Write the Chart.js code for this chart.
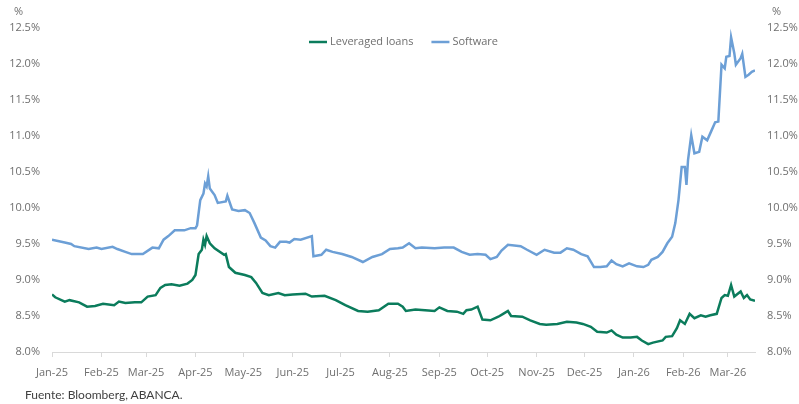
<!DOCTYPE html>
<html>
<head>
<meta charset="utf-8">
<script src="https://cdn.jsdelivr.net/npm/chart.js@4/dist/chart.umd.min.js"></script>
<style>
  body { margin: 0; background: #fff; }
  #wrap { position: relative; width: 799px; height: 404px; }
  #source {
    position: absolute; left: 25px; top: 387px;
    font: 12px "Lato", "Open Sans", sans-serif; color: #404040;
  }
</style>
</head>
<body>
<div id="wrap">
  <canvas id="chart" width="799" height="404"></canvas>
  <div id="source">Fuente: Bloomberg, ABANCA.</div>
</div>
<script>
// days counted from 1 Jan 2025
const monthDays = [0, 31, 59, 90, 120, 151, 181, 212, 243, 273, 304, 334, 365, 396, 424];
const monthLabels = ["Jan-25", "Feb-25", "Mar-25", "Apr-25", "May-25", "Jun-25", "Jul-25", "Aug-25",
  "Sep-25", "Oct-25", "Nov-25", "Dec-25", "Jan-26", "Feb-26", "Mar-26"];
const yTicks = [8.0, 8.5, 9.0, 9.5, 10.0, 10.5, 11.0, 11.5, 12.0, 12.5];

const loanDays = [0, 2, 8, 11, 17, 22, 27, 32, 39, 42, 46, 52, 56, 60, 65, 68, 71, 75, 80, 85, 88, 90, 92, 94,
  95, 96, 97, 99, 102, 108, 109, 111, 115, 121, 125, 128, 132, 136, 142, 146, 151, 159, 163, 171, 178, 184,
  192, 198, 205, 211, 217, 220, 222, 228, 234, 240, 243, 248, 254, 258, 260, 263, 267, 270, 275, 280, 283,
  286, 288, 295, 300, 306, 310, 317, 323, 329, 333, 338, 342, 348, 351, 354, 358, 363, 367, 370, 374, 377,
  383, 385, 389, 392, 394, 397, 400, 403, 407, 410, 413, 417, 420, 422, 424, 426, 428, 432, 434, 436, 438, 441];
const loanVals = [8.80, 8.76, 8.70, 8.72, 8.69, 8.63, 8.64, 8.67, 8.65, 8.70, 8.68, 8.69, 8.69, 8.77, 8.79,
  8.89, 8.93, 8.94, 8.92, 8.95, 9.00, 9.07, 9.36, 9.42, 9.56, 9.49, 9.61, 9.51, 9.44, 9.35, 9.36, 9.18, 9.10,
  9.07, 9.04, 8.96, 8.82, 8.79, 8.82, 8.79, 8.80, 8.81, 8.77, 8.78, 8.72, 8.65, 8.57, 8.56, 8.58, 8.67, 8.67,
  8.63, 8.57, 8.59, 8.58, 8.57, 8.62, 8.57, 8.56, 8.53, 8.58, 8.59, 8.63, 8.45, 8.44, 8.49, 8.53, 8.57, 8.50,
  8.49, 8.44, 8.39, 8.38, 8.39, 8.42, 8.41, 8.39, 8.35, 8.28, 8.27, 8.30, 8.24, 8.20, 8.20, 8.21, 8.16, 8.11,
  8.13, 8.16, 8.21, 8.22, 8.33, 8.44, 8.39, 8.53, 8.47, 8.51, 8.49, 8.51, 8.53, 8.75, 8.79, 8.78, 8.93, 8.77,
  8.84, 8.75, 8.79, 8.73, 8.71];

const swDays = [0, 8, 12, 14, 23, 28, 31, 38, 41, 46, 50, 57, 63, 67, 70, 73, 77, 83, 87, 90, 91, 93, 95, 96,
  97, 98, 99, 102, 104, 109, 110, 113, 117, 121, 124, 127, 131, 134, 137, 140, 143, 147, 149, 152, 156, 163,
  164, 169, 172, 176, 182, 188, 195, 201, 207, 212, 217, 220, 224, 228, 232, 240, 246, 252, 257, 262, 267,
  272, 275, 279, 282, 286, 294, 298, 304, 309, 315, 319, 323, 327, 332, 336, 340, 344, 348, 351, 354, 358,
  362, 367, 371, 374, 376, 380, 383, 386, 389, 391, 393, 395, 397, 398, 399, 401, 403, 406, 408, 411, 413,
  416, 418, 420, 422, 423, 425, 426, 428, 429, 432, 433, 435, 437, 439, 441];
const swVals = [9.56, 9.52, 9.50, 9.47, 9.43, 9.45, 9.43, 9.46, 9.43, 9.39, 9.36, 9.36, 9.45, 9.44, 9.56,
  9.61, 9.69, 9.69, 9.72, 9.72, 9.76, 10.11, 10.20, 10.34, 10.30, 10.44, 10.27, 10.18, 10.07, 10.09, 10.17,
  9.98, 9.96, 9.97, 9.93, 9.79, 9.59, 9.55, 9.47, 9.45, 9.53, 9.53, 9.52, 9.57, 9.56, 9.61, 9.33, 9.35, 9.42,
  9.39, 9.36, 9.32, 9.25, 9.32, 9.36, 9.43, 9.44, 9.45, 9.51, 9.44, 9.45, 9.44, 9.45, 9.45, 9.39, 9.35, 9.36,
  9.35, 9.29, 9.32, 9.41, 9.49, 9.47, 9.42, 9.35, 9.42, 9.38, 9.38, 9.44, 9.42, 9.36, 9.33, 9.18, 9.18, 9.19,
  9.27, 9.22, 9.19, 9.23, 9.19, 9.18, 9.21, 9.28, 9.32, 9.39, 9.51, 9.60, 9.79, 10.11, 10.57, 10.57, 10.32,
  10.67, 11.01, 10.76, 10.78, 10.99, 10.94, 11.04, 11.19, 11.20, 11.99, 11.94, 12.10, 12.11, 12.37, 12.15,
  11.99, 12.08, 12.14, 11.82, 11.85, 11.89, 11.91];

const GREEN = "#0b7c5c";
const BLUE = "#6c9fd6";
const TXT = "#6f6f6f";
const FONT = '"Open Sans", sans-serif';

const pts = (xs, ys) => xs.map((d, i) => ({ x: d, y: ys[i] }));

// legend + "%" headers drawn over the plot
const extras = {
  id: "extras",
  afterDraw(chart) {
    const c = chart.ctx, a = chart.chartArea;
    c.save();
    c.font = "11px " + FONT;
    c.fillStyle = TXT;
    c.textBaseline = "middle";
    c.textAlign = "left";
    c.fillText("%", 14, 12);
    c.fillText("%", 772, 12);

    const items = chart.data.datasets.map(ds => ({ label: ds.label, color: ds.borderColor }));
    const lineW = 18, gap = 3, between = 18;
    let total = 0;
    items.forEach((it, i) => {
      it.w = lineW + gap + c.measureText(it.label).width;
      total += it.w + (i ? between : 0);
    });
    let x = (a.left + a.right) / 2 - total / 2;
    const y = 42;
    items.forEach(it => {
      c.strokeStyle = it.color;
      c.lineWidth = 2.5;
      c.beginPath();
      c.moveTo(x, y);
      c.lineTo(x + lineW, y);
      c.stroke();
      c.fillStyle = TXT;
      c.fillText(it.label, x + lineW + gap, y);
      x += it.w + between;
    });
    c.restore();
  }
};

const yScale = (pos, w) => ({
  type: "linear",
  position: pos,
  min: 8,
  max: 12.5,
  afterBuildTicks: s => { s.ticks = yTicks.map(v => ({ value: v })); },
  afterFit: s => { s.width = w; },
  grid: { display: false, drawTicks: false },
  border: { display: false },
  ticks: {
    padding: 12,
    color: TXT,
    font: { family: FONT, size: 11 },
    callback: v => v.toFixed(1) + "%"
  }
});

new Chart(document.getElementById("chart"), {
  type: "line",
  data: {
    datasets: [
      { label: "Leveraged loans", data: pts(loanDays, loanVals), borderColor: GREEN, borderWidth: 2.5,
        pointRadius: 0, tension: 0, yAxisID: "y" },
      { label: "Software", data: pts(swDays, swVals), borderColor: BLUE, borderWidth: 2.5,
        pointRadius: 0, tension: 0, yAxisID: "y" }
    ]
  },
  options: {
    responsive: false,
    animation: false,
    layout: { padding: { top: 28, left: 0, right: 0, bottom: 0 } },
    plugins: { legend: { display: false }, tooltip: { enabled: false } },
    scales: {
      x: {
        type: "linear",
        min: 0,
        max: 441,
        afterBuildTicks: s => { s.ticks = monthDays.map(v => ({ value: v })); },
        afterFit: s => { s.height = 52; },
        grid: { drawOnChartArea: false, drawTicks: true, tickLength: 5, color: "#d9d9d9" },
        border: { color: "#d9d9d9" },
        ticks: {
          padding: 9,
          maxRotation: 0,
          autoSkip: false,
          color: TXT,
          font: { family: FONT, size: 11 },
          callback: v => monthLabels[monthDays.indexOf(v)]
        }
      },
      y: yScale("left", 52),
      y2: yScale("right", 44)
    }
  },
  plugins: [extras]
});
</script>
</body>
</html>
